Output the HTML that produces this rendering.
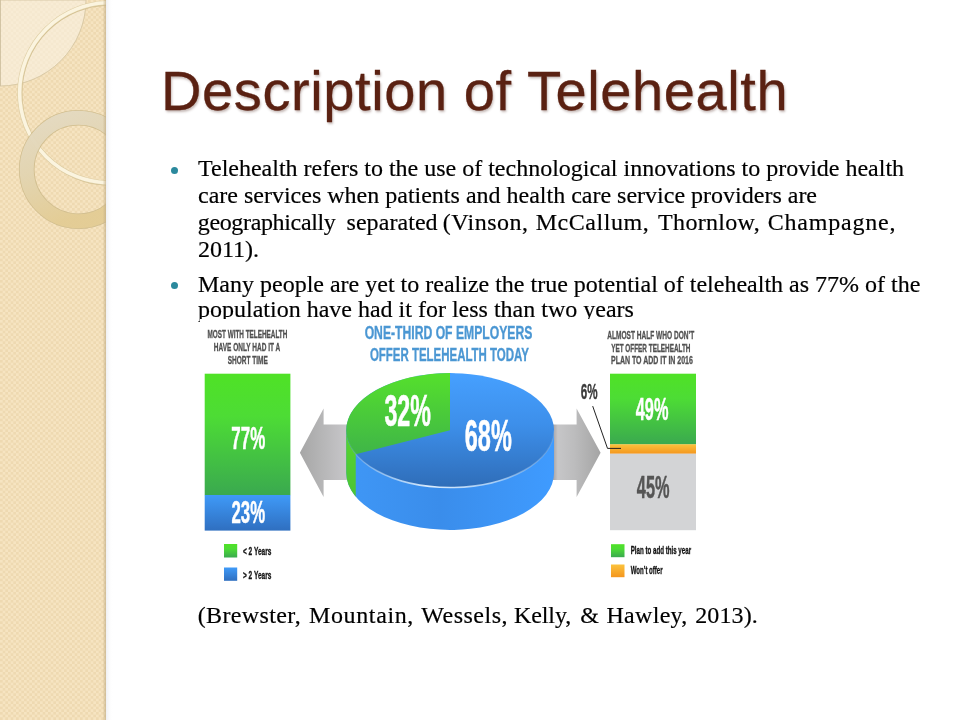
<!DOCTYPE html>
<html lang="en">
<head>
<meta charset="utf-8">
<title>Description of Telehealth</title>
<style>
  html, body { margin: 0; padding: 0; }
  body { width: 960px; height: 720px; overflow: hidden; background: #ffffff; position: relative;
         font-family: "Liberation Serif", serif; }
  .bul, #cap, #title, #info { will-change: transform; }
  .bul, #cap { -webkit-text-stroke: 0.18px #000; }
  #side { position: absolute; left: 0; top: 0; width: 120px; height: 720px; }
  #title { position: absolute; left: 160.5px; top: 59.6px; margin: 0; white-space: nowrap;
           font-family: "Liberation Sans", sans-serif; font-weight: normal; font-size: 56px; letter-spacing: 0.6px;
           line-height: 62px; color: #5a2112; text-shadow: 1px 1.5px 2.5px rgba(60,20,10,0.3); -webkit-text-stroke: 0.3px #5a2112; }
  .bul { position: absolute; left: 198px; width: 740px; margin: 0; font-size: 24px; line-height: 27px;
         color: #000; white-space: nowrap; }
  .dot { position: absolute; width: 7.2px; height: 7.2px; border-radius: 50%; background: #2b899d; left: 170.8px; }
  .w { position: absolute; top: 0; white-space: nowrap; }
  #cap { position: absolute; left: 198px; top: 601.7px; width: 600px; height: 30px; font-size: 24px; line-height: 27px; white-space: nowrap; color:#000; }
  #info { position: absolute; left: 200px; top: 319.4px; width: 520px; height: 274.6px; background: #fff; overflow: hidden; }
  #info svg { position: absolute; left: -10px; top: -0.4px; }
</style>
</head>
<body>

<svg id="side" width="120" height="720" viewBox="0 0 120 720">
  <defs>
    <pattern id="chk" width="5.333" height="5.333" patternUnits="userSpaceOnUse">
      <rect width="5.333" height="5.333" fill="#eed9b1"/>
      <rect x="0" y="0" width="2.667" height="2.667" fill="#f6e4c1"/>
      <rect x="2.667" y="2.667" width="2.667" height="2.667" fill="#f6e4c1"/>
    </pattern>
    <linearGradient id="shd" x1="0" x2="1" y1="0" y2="0">
      <stop offset="0" stop-color="#9aa0b0" stop-opacity="0.16"/>
      <stop offset="1" stop-color="#ffffff" stop-opacity="0"/>
    </linearGradient>
    <linearGradient id="ringg" x1="0" x2="0.35" y1="0" y2="1">
      <stop offset="0" stop-color="#e9e1cf"/>
      <stop offset="0.5" stop-color="#e7dab9"/>
      <stop offset="1" stop-color="#e8d097"/>
    </linearGradient>
    <linearGradient id="edge" x1="0" x2="1" y1="0" y2="0">
      <stop offset="0" stop-color="#c4b088" stop-opacity="0"/>
      <stop offset="1" stop-color="#c4b088" stop-opacity="0.75"/>
    </linearGradient>
    <clipPath id="sideclip"><rect x="0" y="0" width="106" height="720"/></clipPath>
  </defs>
  <rect x="106" y="0" width="7" height="720" fill="url(#shd)"/>
  <rect x="0" y="0" width="106" height="720" fill="url(#chk)"/>
  <g clip-path="url(#sideclip)">
    <path d="M0 0 H86 A86 86 0 0 1 0 86 Z" fill="#f9f1e2" fill-opacity="0.62" stroke="#d6c6a2" stroke-width="0.9"/>
    <rect x="0" y="0" width="1" height="86" fill="#cdbf9f" fill-opacity="0.8"/>
    <circle cx="110.2" cy="93.4" r="90" fill="none" stroke="#d2bf90" stroke-width="4.4"/>
    <circle cx="109.6" cy="92.8" r="90" fill="none" stroke="#dfcfa6" stroke-width="4.8"/>
    <circle cx="109.6" cy="92.8" r="90" fill="none" stroke="#fbf4df" stroke-width="3.5"/>
    <circle cx="78.4" cy="169.5" r="51.7" fill="none" stroke="#c9b686" stroke-width="15.6" stroke-opacity="0.8"/>
    <circle cx="78.4" cy="169.5" r="51.7" fill="none" stroke="url(#ringg)" stroke-width="14" stroke-opacity="0.8"/>
  </g>
  <rect x="102.6" y="0" width="3.4" height="720" fill="url(#edge)"/>
</svg>

<h1 id="title">Description of Telehealth</h1>

<span class="dot" style="top:166.9px"></span>
<p class="bul" style="top:155px">Telehealth refers to the use of technological innovations to provide health<br>care services when patients and health care service providers are</p>
<p class="bul" style="top:209px;height:27px"><span class="w" style="left:-0.25px;letter-spacing:-0.346px">geographically</span> <span class="w" style="left:148.50px;letter-spacing:0.062px">separated</span> <span class="w" style="left:244.75px;letter-spacing:0.464px">(Vinson,</span> <span class="w" style="left:337.75px;letter-spacing:0.531px">McCallum,</span> <span class="w" style="left:460.10px;letter-spacing:0.312px">Thornlow,</span> <span class="w" style="left:569.70px;letter-spacing:0.789px">Champagne,</span></p>
<p class="bul" style="top:236px">2011).</p>

<span class="dot" style="top:281.9px"></span>
<p class="bul" style="top:270.9px">Many people are yet to realize the true potential of telehealth as 77% of the</p>
<p class="bul" style="top:295.9px">population have had it for less than two years</p>

<div id="info">
<svg width="530" height="275" viewBox="190 319 530 275" font-family="'Liberation Sans', sans-serif" font-weight="bold">
  <defs>
    <linearGradient id="gGreen" x1="0" x2="0" y1="0" y2="1">
      <stop offset="0" stop-color="#4fe226"/>
      <stop offset="0.35" stop-color="#4ddc35"/>
      <stop offset="1" stop-color="#3aa94f"/>
    </linearGradient>
    <linearGradient id="gBlue" x1="0" x2="0" y1="0" y2="1">
      <stop offset="0" stop-color="#3f9af8"/>
      <stop offset="1" stop-color="#2f6fc0"/>
    </linearGradient>
    <linearGradient id="gOrange" x1="0" x2="0" y1="0" y2="1">
      <stop offset="0" stop-color="#fbc23c"/>
      <stop offset="1" stop-color="#f4961e"/>
    </linearGradient>
    <linearGradient id="gArrL" gradientUnits="userSpaceOnUse" x1="300" x2="348" y1="0" y2="0">
      <stop offset="0" stop-color="#a6a6a6"/>
      <stop offset="0.5" stop-color="#b7b7b8"/>
      <stop offset="1" stop-color="#c8c7ca"/>
    </linearGradient>
    <linearGradient id="gArrR" gradientUnits="userSpaceOnUse" x1="553" x2="601" y1="0" y2="0">
      <stop offset="0" stop-color="#a9a4a4"/>
      <stop offset="0.1" stop-color="#c6c6c8"/>
      <stop offset="0.45" stop-color="#bcbcbd"/>
      <stop offset="1" stop-color="#a4a4a4"/>
    </linearGradient>
    <linearGradient id="gWall" gradientUnits="userSpaceOnUse" x1="346" x2="554" y1="0" y2="0">
      <stop offset="0" stop-color="#3f97f6"/>
      <stop offset="0.45" stop-color="#3a8deb"/>
      <stop offset="1" stop-color="#3f9bff"/>
    </linearGradient>
    <linearGradient id="gWallG" x1="0" x2="0" y1="0" y2="1">
      <stop offset="0" stop-color="#58d52e"/>
      <stop offset="1" stop-color="#4bc437"/>
    </linearGradient>
    <linearGradient id="gRim" gradientUnits="userSpaceOnUse" x1="346" x2="554" y1="0" y2="0">
      <stop offset="0" stop-color="#bfe0ff" stop-opacity="0"/>
      <stop offset="0.12" stop-color="#bfe0ff" stop-opacity="0.45"/>
      <stop offset="0.4" stop-color="#e4f2ff" stop-opacity="0.95"/>
      <stop offset="0.7" stop-color="#cfe8ff" stop-opacity="0.7"/>
      <stop offset="1" stop-color="#bfe0ff" stop-opacity="0.1"/>
    </linearGradient>
    <linearGradient id="gTopBlue" x1="0" x2="0" y1="0" y2="1">
      <stop offset="0" stop-color="#46a0ff"/>
      <stop offset="0.45" stop-color="#3d8fea"/>
      <stop offset="1" stop-color="#2f6db8"/>
    </linearGradient>
    <linearGradient id="gTopGreen" x1="0" x2="0" y1="0" y2="1">
      <stop offset="0" stop-color="#55e02c"/>
      <stop offset="1" stop-color="#3fb548"/>
    </linearGradient>
  </defs>

  <!-- left header -->
  <g fill="#505050" font-size="10.5" text-anchor="middle" stroke="#505050" stroke-width="0.3">
    <text transform="translate(247.4 338) scale(0.608 1)">MOST WITH TELEHEALTH</text>
    <text transform="translate(247 351) scale(0.62 1)">HAVE ONLY HAD IT A</text>
    <text transform="translate(247.7 364) scale(0.62 1)">SHORT TIME</text>
  </g>
  <!-- left bar -->
  <rect x="204.7" y="373.7" width="85.7" height="121.5" fill="url(#gGreen)"/>
  <rect x="204.7" y="495" width="85.7" height="35.6" fill="url(#gBlue)"/>
  <g fill="#fff" font-size="30.5" text-anchor="middle" stroke="#fff" stroke-width="0.5">
    <text transform="translate(248.3 448.9) scale(0.555 1)">77%</text>
    <text transform="translate(248.3 523) scale(0.55 1)">23%</text>
  </g>
  <!-- left legend -->
  <rect x="224" y="544" width="13.2" height="13.5" fill="url(#gGreen)"/>
  <rect x="224" y="567.5" width="13.2" height="13.3" fill="url(#gBlue)"/>
  <g fill="#111" font-size="10.3" stroke="#111" stroke-width="0.3">
    <text transform="translate(243 555.2) scale(0.635 1)">&lt; 2 Years</text>
    <text transform="translate(243 578.6) scale(0.635 1)">&gt; 2 Years</text>
  </g>

  <!-- center title -->
  <g fill="#4b97d3" font-size="17.6" text-anchor="middle" stroke="#4b97d3" stroke-width="0.35">
    <text transform="translate(448.5 338.8) scale(0.692 1)">ONE-THIRD OF EMPLOYERS</text>
    <text transform="translate(449.4 360.6) scale(0.652 1.03)">OFFER TELEHEALTH TODAY</text>
  </g>

  <!-- arrows -->
  <polygon points="299.9,452.7 323.6,408.4 323.6,424.6 400,424.6 400,480.1 323.6,480.1 323.6,497" fill="url(#gArrL)"/>
  <polygon points="600.6,452.7 576.6,408.4 576.6,424.6 500,424.6 500,480 576.6,480 576.6,497" fill="url(#gArrR)"/>

  <!-- pie -->
  <path d="M346.25 430.3 A103.9 57.2 0 0 0 554.05 430.3 V472.8 A103.9 57.2 0 0 1 346.25 472.8 Z" fill="url(#gWall)"/>
  <path d="M346.25 430.3 A103.9 57.2 0 0 0 355.74 454.19 V496.69 A103.9 57.2 0 0 1 346.25 472.8 Z" fill="url(#gWallG)"/>
  <ellipse cx="450.15" cy="430.3" rx="103.9" ry="57.2" fill="url(#gTopBlue)"/>
  <path d="M450 430.3 L450 373.10 A103.9 57.2 0 0 0 355.74 454.19 Z" fill="url(#gTopGreen)"/>
  <path d="M346.25 430.3 A103.9 57.2 0 0 0 554.05 430.3" fill="none" stroke="url(#gRim)" stroke-width="1.6"/>
  <g fill="#fff" font-size="43.5" text-anchor="middle" stroke="#fff" stroke-width="0.6">
    <text transform="translate(407.7 426) scale(0.535 1)">32%</text>
    <text transform="translate(488.3 451.4) scale(0.54 1)">68%</text>
  </g>

  <!-- right header -->
  <g fill="#505050" font-size="10.8" text-anchor="middle" stroke="#505050" stroke-width="0.3">
    <text transform="translate(650.8 338.7) scale(0.608 1)">ALMOST HALF WHO DON’T</text>
    <text transform="translate(650.8 351.5) scale(0.592 1)">YET OFFER TELEHEALTH</text>
    <text transform="translate(651.9 363.7) scale(0.648 1)">PLAN TO ADD IT IN 2016</text>
  </g>
  <!-- right bar -->
  <rect x="610" y="373.7" width="86" height="70.8" fill="url(#gGreen)"/>
  <rect x="610" y="444.3" width="86" height="9.5" fill="url(#gOrange)"/>
  <rect x="610" y="453.7" width="86" height="76.5" fill="#d3d4d6"/>
  <g font-size="31.4" text-anchor="middle">
    <text fill="#fff" stroke="#fff" stroke-width="0.5" transform="translate(652.1 420) scale(0.52 0.985)">49%</text>
    <text fill="#555" stroke="#555" stroke-width="0.5" transform="translate(653.2 498.1) scale(0.52 0.985)">45%</text>
  </g>
  <text fill="#3a3a3a" stroke="#3a3a3a" stroke-width="0.4" font-size="21.2" text-anchor="middle" transform="translate(589.2 398.6) scale(0.55 1)">6%</text>
  <polyline points="592.7,406.1 607.5,448.4 621,448.4" fill="none" stroke="#222" stroke-width="1"/>
  <!-- right legend -->
  <rect x="611" y="544.2" width="13.5" height="13" fill="url(#gGreen)"/>
  <rect x="611" y="564.5" width="13.5" height="12.7" fill="url(#gOrange)"/>
  <g fill="#111" font-size="10.3" stroke="#111" stroke-width="0.3">
    <text transform="translate(630.7 554.3) scale(0.6 1)">Plan to add this year</text>
    <text transform="translate(630.7 574.3) scale(0.59 1)">Won’t offer</text>
  </g>
</svg>
</div>

<div id="cap"><span class="w" style="left:-0.25px;letter-spacing:0.361px">(Brewster,</span> <span class="w" style="left:111.00px;letter-spacing:0.625px">Mountain,</span> <span class="w" style="left:223.25px;letter-spacing:0.500px">Wessels,</span> <span class="w" style="left:316.00px;letter-spacing:-0.100px">Kelly,</span> <span class="w" style="left:382.25px;letter-spacing:0.000px">&amp;</span> <span class="w" style="left:408.50px;letter-spacing:0.292px">Hawley,</span> <span class="w" style="left:497.25px;letter-spacing:0.100px">2013).</span></div>

</body>
</html>
